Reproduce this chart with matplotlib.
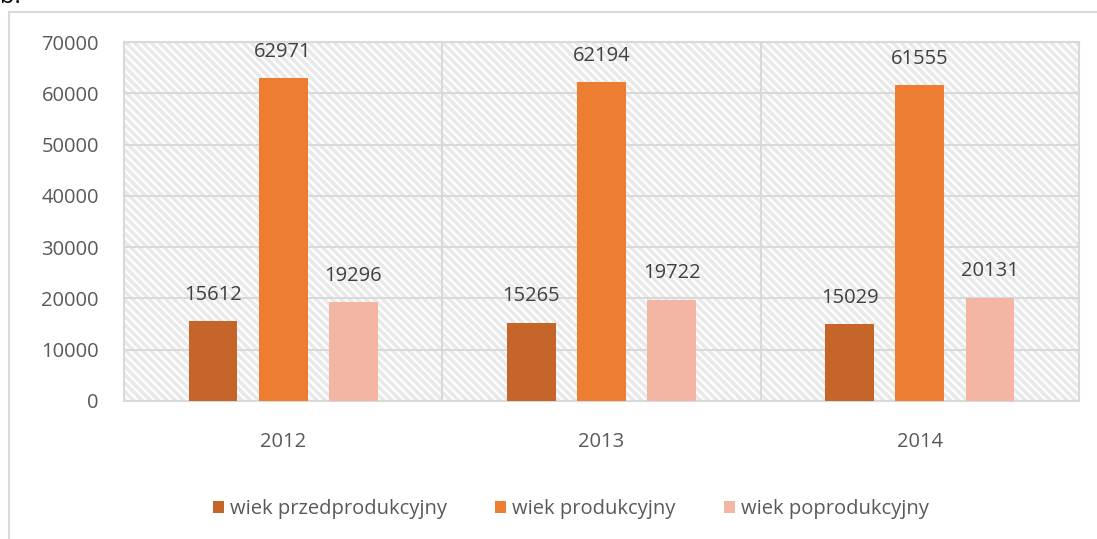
import numpy as np
import matplotlib.pyplot as plt
from matplotlib.patches import Rectangle

# data
years = ["2012", "2013", "2014"]
przed = [15612, 15265, 15029]
prod = [62971, 62194, 61555]
popro = [19296, 19722, 20131]
labels = ["wiek przedprodukcyjny", "wiek produkcyjny", "wiek poprodukcyjny"]
colors = ["#C5652A", "#ED7D31", "#F4B6A4"]

plt.rcParams['font.family'] = ['Open Sans', 'DejaVu Sans']
plt.rcParams['hatch.linewidth'] = 2.6
plt.rcParams['hatch.color'] = '#E9E9E9'

fig = plt.figure(figsize=(10.97, 5.39), dpi=100)
ax = fig.add_axes([124/1097, 1 - 401/539, (1079 - 124)/1097, (401 - 42)/539])

# outer chart frame (cut off by the picture edges)
fig.add_artist(Rectangle((9/1097, -0.05), 1.0, 1 - 12/539 + 0.05,
                         transform=fig.transFigure, fill=False,
                         edgecolor='#D9D9D9', linewidth=1.5, clip_on=False))
fig.text(0.0, 1.006, "b.", fontsize=17, color='black', va='center', ha='left')

# hatched plot area background
ax.add_patch(Rectangle((0, 0), 1, 1, transform=ax.transAxes, facecolor='white',
                       hatch='\\\\\\\\', edgecolor='#E9E9E9', linewidth=0, zorder=0))

x = np.arange(len(years))
w = 0.153
gap = 0.22
for i, (vals, lab, col) in enumerate(zip([przed, prod, popro], labels, colors)):
    bars = ax.bar(x + (i - 1) * gap, vals, w, color=col, label=lab, zorder=3)
    for b, v in zip(bars, vals):
        ax.text(b.get_x() + b.get_width() / 2, v + 3200, str(v), ha='center',
                va='bottom', fontsize=14.5, color='#404040', zorder=4)

ax.set_xlim(-0.5, 2.5)
ax.set_ylim(0, 70000)
ax.set_yticks(range(0, 70001, 10000))
ax.set_xticks(x)
ax.set_xticklabels(years)
ax.set_xticks([0.5, 1.5], minor=True)
ax.grid(axis='y', color='#D9D9D9', linewidth=1.5, zorder=1)
ax.grid(axis='x', which='minor', color='#D9D9D9', linewidth=1.5, zorder=1)
ax.set_axisbelow(True)
for s in ax.spines.values():
    s.set_color('#D9D9D9')
    s.set_linewidth(1.5)
ax.tick_params(axis='both', which='both', length=0, labelsize=14.5, labelcolor='#595959')
ax.tick_params(axis='y', pad=18)
ax.tick_params(axis='x', pad=22)

ax.legend(loc='center', bbox_to_anchor=(0.468, -0.3), ncol=3, frameon=False,
          fontsize=14.5, labelcolor='#595959', handlelength=0.55, handleheight=0.55,
          handletextpad=0.3, columnspacing=2.4)

fig.savefig("out.png", dpi=100)
